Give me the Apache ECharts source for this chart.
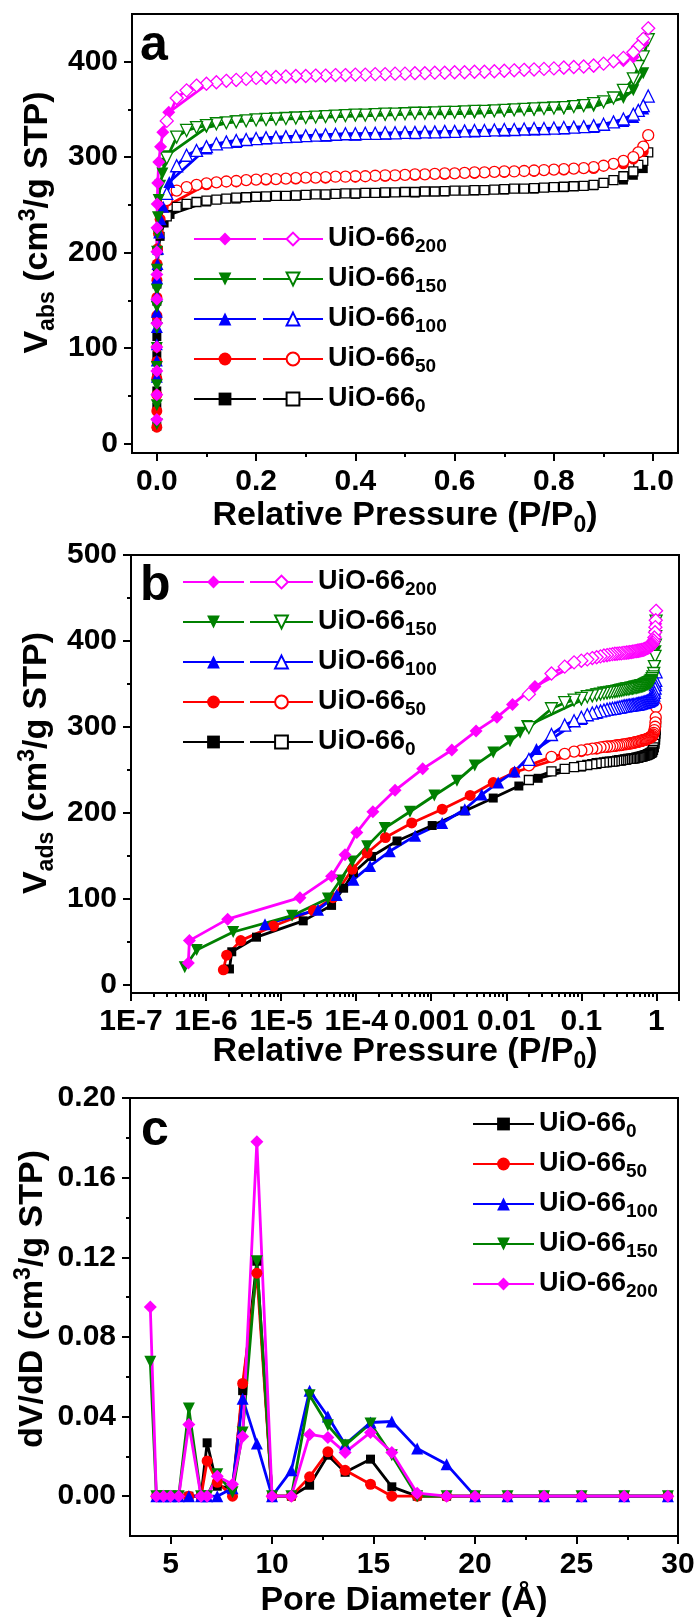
<!DOCTYPE html>
<html><head><meta charset="utf-8">
<script src="https://cdn.jsdelivr.net/npm/echarts@6/dist/echarts.min.js"></script>
<style>html,body{margin:0;padding:0;background:#fff}#chart{width:697px;height:1618px}</style>
</head><body><div id="chart"></div>
<script>
// ================= DATA =================
// Panels a & b: N2 isotherms (adsorption = filled, desorption = open)
const desP = [0.99,0.98,0.97,0.96,0.94,0.92,0.90,0.88,0.86,0.84,0.82,0.80,0.78,0.76,0.74,0.72,0.70,0.68,0.66,0.64,0.62,0.60,0.58,0.56,0.54,0.52,0.50,0.48,0.46,0.44,0.42,0.40,0.38,0.36,0.34,0.32,0.30,0.28,0.26,0.24,0.22,0.20,0.18,0.16,0.14,0.12,0.10,0.08,0.06,0.04,0.02];
const desV0   = [305,296,292,285,280,276,273,271,270,269.5,269,268.5,268,267.5,267,267,266.5,266,265.5,265.5,265,265,264.5,264,264,263.5,263.5,263,263,262.5,262.5,262,262,261.5,261,261,260.5,260,259.5,259.5,259,258.5,258,257.5,256.5,255.5,254.5,253,251,248,238];
const desV50  = [323,311,305,300,296,293,291,289.5,288.5,288,287.5,287,286.5,286,285.5,285,285,284.5,284,284,283.5,283,283,282.5,282,282,281.5,281,281,280.5,280,280,279.5,279.5,279,278.5,278.5,278,277.5,277,277,276.5,276,275,274.5,273.5,272.5,271,268.5,265,255];
const desV100 = [364,354,349,345,340,337,334.5,333,332,331.5,331,330.5,330,330,329.5,329,329,328.5,328,328,327.5,327,327,326.5,326.5,326,326,325.5,325.5,325,325,324.5,324.5,324,323.5,323,322.5,322,321.5,321,320.5,319.5,318.5,317.5,316,314,311,307,302,291,262];
const desV150 = [423,405,395,382,370,362,358,356,354,353,352,351.5,351,350.5,350,349.5,349,348.5,348,348,347.5,347,347,346.5,346,346,345.5,345,345,344.5,344,344,343.5,343,342.5,342,341.5,341,340.5,340,339.5,339,338,337,336,335,333,331,328,321,299];
const desV200 = [435,424,416,410,404,400.5,398,396,395,394.5,394,393,392.5,392,391.5,391,390.5,390,389.5,389.5,389,389,388.5,388.5,388,388,387.5,387.5,387,387,386.5,386.5,386,386,385.5,385.5,385,385,384.5,384,383.5,383,382,381,380,378.5,377,375,370,362,338];

const adsP0   = [2.05e-6,2.2e-6,4.7e-6,1.97e-5,4.7e-5,6.8e-5,9.2e-5,1.6e-4,3.5e-4,1.03e-3,2.8e-3,6.7e-3,0.0147,0.0266,0.10,0.16,0.22,0.28,0.34,0.40,0.46,0.52,0.58,0.64,0.70,0.76,0.82,0.88,0.94,0.96,0.98];
const adsV0   = [18,38,55,74,92,112,130,149,167,185,202,217,231,240,253,256,258,259,260,261,262,262.5,263.5,264.5,265.5,266.5,268,270,276,281,288];
const adsP50  = [1.7e-6,1.88e-6,2.9e-6,7.9e-6,2.7e-5,4.9e-5,8.9e-5,1.4e-4,2.45e-4,5.5e-4,1.4e-3,3.3e-3,6.7e-3,0.0129,0.10,0.16,0.22,0.28,0.34,0.40,0.46,0.52,0.58,0.64,0.70,0.76,0.82,0.88,0.94,0.96,0.98];
const adsV50  = [17,34,51,68,86,101,134,153,171,188,204,220,235,247,271,274,276,277,278,279,280,281,282,283,284,285,286.5,288,293,298,306];
const adsP100 = [6.1e-6,3.1e-5,5.5e-5,9.2e-5,1.53e-4,2.8e-4,6.1e-4,1.4e-3,2.8e-3,4.7e-3,7.8e-3,0.0129,0.0252,0.10,0.16,0.22,0.28,0.34,0.40,0.46,0.52,0.58,0.64,0.70,0.76,0.82,0.88,0.94,0.96,0.98];
const adsV100 = [70,87,104,122,138,155,173,188,204,221,235,248,274,309,316,319.5,321,322.5,323.5,324.5,325,326,327,328,329,330,331.5,338,342,351];
const adsP150 = [5.2e-7,7.5e-7,2.3e-6,1.4e-5,4.2e-5,6.1e-5,8.9e-5,1.4e-4,2.4e-4,5.2e-4,1.1e-3,2.2e-3,3.8e-3,6.7e-3,0.0112,0.0153,0.0188,0.10,0.16,0.22,0.28,0.34,0.40,0.46,0.52,0.58,0.64,0.70,0.76,0.82,0.88,0.94,0.96,0.98];
const adsV150 = [20,40,61,80,100,121,143,161,182,201,220,237,255,270,283,293,301,331,338,339,340.5,342,343,344,345.5,345.5,346,347.5,349,350.5,353,362,370,388];
const adsP200 = [5.8e-7,6.0e-7,1.94e-6,1.78e-5,4.7e-5,7.1e-5,1.02e-4,1.67e-4,3.3e-4,7.7e-4,1.88e-3,3.96e-3,7.5e-3,0.0121,0.0241,0.10,0.16,0.22,0.28,0.34,0.40,0.46,0.52,0.58,0.64,0.70,0.76,0.82,0.88,0.94,0.96,0.98];
const adsV200 = [25,51,76,101,126,151,177,201,226,251,273,295,311,326,347,376,380,382.5,384,385,386,386.5,387.5,388,389,390,391,393,395,401,405,420];

// Panel c: pore size distribution
const poreD  = [4.0,4.3,4.65,5.0,5.4,5.9,6.5,6.8,7.3,8.05,8.55,9.25,10.0,10.95,11.85,12.75,13.6,14.85,15.9,17.15,18.6,20.0,21.6,23.4,25.25,27.35,29.5];
const psd0   = [null,0,0,0,0,0,0,0.0268,0.005,0.004,0.053,0.118,0,0,0.0055,0.0206,0.012,0.0186,0.0047,0,0,0,0,0,0,0,0];
const psd50  = [null,0,0,0,0,0,0,0.0177,0.007,0,0.0566,0.112,0,0,0.0097,0.0223,0.013,0.006,0,0,0,0,0,0,0,0,0];
const psd100 = [null,0,0,0,0,0,0,0,0,0.004,0.049,0.0264,0,0.013,0.053,0.040,0.026,0.037,0.0375,0.024,0.016,0,0,0,0,0,0];
const psd150 = [0.0675,0,0,0,0,0.044,0,0,0.011,0.002,0.032,0.118,0,0,0.0507,0.0356,0.0256,0.0365,0.0206,0,0,0,0,0,0,0,0];
const psd200 = [0.095,0,0,0,0,0.036,0,0,0.010,0.006,0.030,0.178,0,0,0.031,0.0295,0.022,0.032,0.022,0.0015,0,0,0,0,0,0,0];

// Tick values / labels
const aXTicks = [0,0.2,0.4,0.6,0.8,1.0];
const aXMinor = [0.1,0.3,0.5,0.7,0.9];
const aYTicks = [0,100,200,300,400];
const aYMinor = [50,150,250,350];
const bYTicks = [0,100,200,300,400,500];
const bYMinor = [50,150,250,350,450];
const bXLabels = ['1E-7','1E-6','1E-5','1E-4','0.001','0.01','0.1','1'];
const cXTicks = [5,10,15,20,25,30];
const cXMinor = [7.5,12.5,17.5,22.5,27.5];
const cYTicks = [0,0.04,0.08,0.12,0.16,0.20];
const cYMinor = [0.02,0.06,0.10,0.14,0.18];

// ================= STYLE =================
const FONT = "'Liberation Sans', Arial, sans-serif";
const samples = [
  {sub:'0',   color:'#000000', sym:'rect',     size:9,  rot:0,   adsP:adsP0,   adsV:adsV0,   desV:desV0,   psd:psd0},
  {sub:'50',  color:'#ff0000', sym:'circle',   size:11, rot:0,   adsP:adsP50,  adsV:adsV50,  desV:desV50,  psd:psd50},
  {sub:'100', color:'#0000ff', sym:'triangle', size:12, rot:0,   adsP:adsP100, adsV:adsV100, desV:desV100, psd:psd100},
  {sub:'150', color:'#008000', sym:'triangle', size:12, rot:180, adsP:adsP150, adsV:adsV150, desV:desV150, psd:psd150},
  {sub:'200', color:'#ff00ff', sym:'diamond',  size:13, rot:0,   adsP:adsP200, adsV:adsV200, desV:desV200, psd:psd200}
];

const bXMinor = [];
for (let e = -7; e <= -1; e++) for (let k = 2; k <= 9; k++) bXMinor.push(+(k * Math.pow(10, e)).toPrecision(3));
bXMinor.push(2);

const LBL = {color:'#000', fontSize:30, fontWeight:'bold', fontFamily:FONT};
function nameStyle(pad) {
  return {color:'#000', fontSize:34, fontWeight:'bold', fontFamily:FONT, lineHeight:42,
    padding: pad ? [0,0,0,pad] : 0,
    rich:{
      s:{fontSize:23, fontWeight:'bold', fontFamily:FONT, color:'#000', verticalAlign:'bottom'},
      p:{fontSize:23, fontWeight:'bold', fontFamily:FONT, color:'#000', verticalAlign:'top'}
    }};
}
function majorAxis(o) {
  const ax = {
    type:o.type, gridIndex:o.grid, min:o.min, max:o.max, position:o.pos,
    axisLine:{show:true, onZero:false, lineStyle:{color:'#000', width:2}},
    axisTick:{show:true, inside:false, length:8, lineStyle:{color:'#000', width:2}},
    axisLabel:Object.assign({show:true, margin:o.margin, formatter:o.fmt, hideOverlap:false}, LBL),
    splitLine:{show:false}, minorTick:{show:false}, silent:true,
    name:o.name, nameLocation:'middle', nameGap:o.nameGap, nameTextStyle:nameStyle(o.pad), nameMoveOverlap:false
  };
  if (o.type === 'log') ax.logBase = 10;
  if (o.ticks) { ax.axisTick.customValues = o.ticks; ax.axisLabel.customValues = o.ticks; }
  return ax;
}
function minorAxis(o) {
  const ax = {
    type:o.type, gridIndex:o.grid, min:o.min, max:o.max, position:o.pos,
    axisLine:{show:false, onZero:false},
    axisTick:{show:true, inside:false, length:4, customValues:o.ticks, lineStyle:{color:'#000', width:2}},
    axisLabel:{show:false}, splitLine:{show:false}, silent:true
  };
  if (o.type === 'log') ax.logBase = 10;
  return ax;
}

const xAxis = [
  majorAxis({type:'value', grid:0, min:-0.05, max:1.05, pos:'bottom', ticks:aXTicks, margin:14,
    fmt:v => v.toFixed(1), name:'Relative Pressure (P/P{s|0})', nameGap:42}),
  minorAxis({type:'value', grid:0, min:-0.05, max:1.05, pos:'bottom', ticks:aXMinor}),
  majorAxis({type:'log', grid:1, min:1e-7, max:2, pos:'bottom', margin:14,
    fmt:v => { const e = Math.log10(v); const r = Math.round(e); return Math.abs(e - r) < 1e-6 && r >= -7 && r <= 0 ? bXLabels[r + 7] : ''; },
    name:'Relative Pressure (P/P{s|0})', nameGap:38}),
  minorAxis({type:'log', grid:1, min:1e-7, max:2, pos:'bottom', ticks:bXMinor}),
  majorAxis({type:'value', grid:2, min:3, max:30, pos:'bottom', ticks:cXTicks, margin:14,
    fmt:v => String(v), name:'Pore Diameter (Å)', nameGap:44}),
  minorAxis({type:'value', grid:2, min:3, max:30, pos:'bottom', ticks:cXMinor})
];
const yAxis = [
  majorAxis({type:'value', grid:0, min:-10, max:450, pos:'left', ticks:aYTicks, margin:14,
    fmt:v => String(v), name:'V{s|abs} (cm{p|3}/g STP)', nameGap:73, pad:22}),
  minorAxis({type:'value', grid:0, min:-10, max:450, pos:'left', ticks:aYMinor}),
  majorAxis({type:'value', grid:1, min:-10, max:500, pos:'left', ticks:bYTicks, margin:14,
    fmt:v => String(v), name:'V{s|ads} (cm{p|3}/g STP)', nameGap:73, pad:22}),
  minorAxis({type:'value', grid:1, min:-10, max:500, pos:'left', ticks:bYMinor}),
  majorAxis({type:'value', grid:2, min:-0.02, max:0.20, pos:'left', ticks:cYTicks, margin:14,
    fmt:v => v.toFixed(2), name:'dV/dD (cm{p|3}/g STP)', nameGap:76, pad:36}),
  minorAxis({type:'value', grid:2, min:-0.02, max:0.20, pos:'left', ticks:cYMinor})
];

function mkSeries(name, pts, s, filled, ax) {
  return {
    type:'line', name, xAxisIndex:ax, yAxisIndex:ax, data:pts,
    symbol:s.sym, symbolSize:s.size, symbolRotate:s.rot, showSymbol:true,
    lineStyle:{color:s.color, width:2.8},
    itemStyle: filled ? {color:s.color, borderColor:s.color, borderWidth:0}
                      : {color:'#ffffff', borderColor:s.color, borderWidth:1.3},
    emphasis:{disabled:true}, silent:true, animation:false, connectNulls:false
  };
}

const series = [];
[['a',0],['b',2]].forEach(([p, ax]) => {
  samples.forEach(s => {
    series.push(mkSeries(p + '|' + s.sub + '|ads', s.adsP.map((x, i) => [x, s.adsV[i]]), s, true, ax));
    series.push(mkSeries(p + '|' + s.sub + '|des', desP.map((x, i) => [x, s.desV[i]]), s, false, ax));
  });
});
samples.forEach(s => {
  series.push(mkSeries('c|' + s.sub + '|psd', poreD.map((x, i) => [x, s.psd[i]]), s, true, 4));
});

function legendCfg(names, left, top, w, textColor) {
  return {
    data:names, orient:'vertical', left, top, padding:0, itemGap:6, itemWidth:w, itemHeight:16,
    selectedMode:false,
    formatter:n => 'UiO-66{s|' + n.split('|')[1] + '}',
    textStyle:{color:textColor, fontSize:27, fontWeight:'bold', fontFamily:FONT, lineHeight:34,
      rich:{s:{color:textColor, fontSize:19, fontWeight:'bold', fontFamily:FONT, verticalAlign:'bottom'}}}
  };
}
const order = ['200','150','100','50','0'];
const legend = [
  legendCfg(order.map(k => 'a|' + k + '|ads'), 193, 222, 62, 'rgba(0,0,0,0)'),
  legendCfg(order.map(k => 'a|' + k + '|des'), 262, 222, 60, '#000'),
  legendCfg(order.map(k => 'b|' + k + '|ads'), 182, 565, 61, 'rgba(0,0,0,0)'),
  legendCfg(order.map(k => 'b|' + k + '|des'), 249, 565, 63, '#000'),
  legendCfg(['0','50','100','150','200'].map(k => 'c|' + k + '|psd'), 472, 1107, 61, '#000')
];

const gridBase = {show:true, borderColor:'#000', borderWidth:2, backgroundColor:'transparent', containLabel:false, outerBoundsMode:'none'};
const grid = [
  Object.assign({left:132, top:14, width:546, height:439}, gridBase),
  Object.assign({left:131, top:555, width:548, height:438}, gridBase),
  Object.assign({left:130, top:1098, width:548, height:438}, gridBase)
];

const letterFont = 'bold 50px ' + FONT;
const graphic = [
  {type:'text', x:140, y:46, silent:true, style:{text:'a', font:letterFont, fill:'#000', verticalAlign:'middle'}},
  {type:'text', x:140, y:586, silent:true, style:{text:'b', font:letterFont, fill:'#000', verticalAlign:'middle'}},
  {type:'text', x:141, y:1131, silent:true, style:{text:'c', font:letterFont, fill:'#000', verticalAlign:'middle'}}
];

const chart = echarts.init(document.getElementById('chart'), null, {renderer:'canvas'});
chart.setOption({
  animation:false, backgroundColor:'#fff',
  textStyle:{fontFamily:FONT},
  grid, xAxis, yAxis, series, legend, graphic
});
</script></body></html>
